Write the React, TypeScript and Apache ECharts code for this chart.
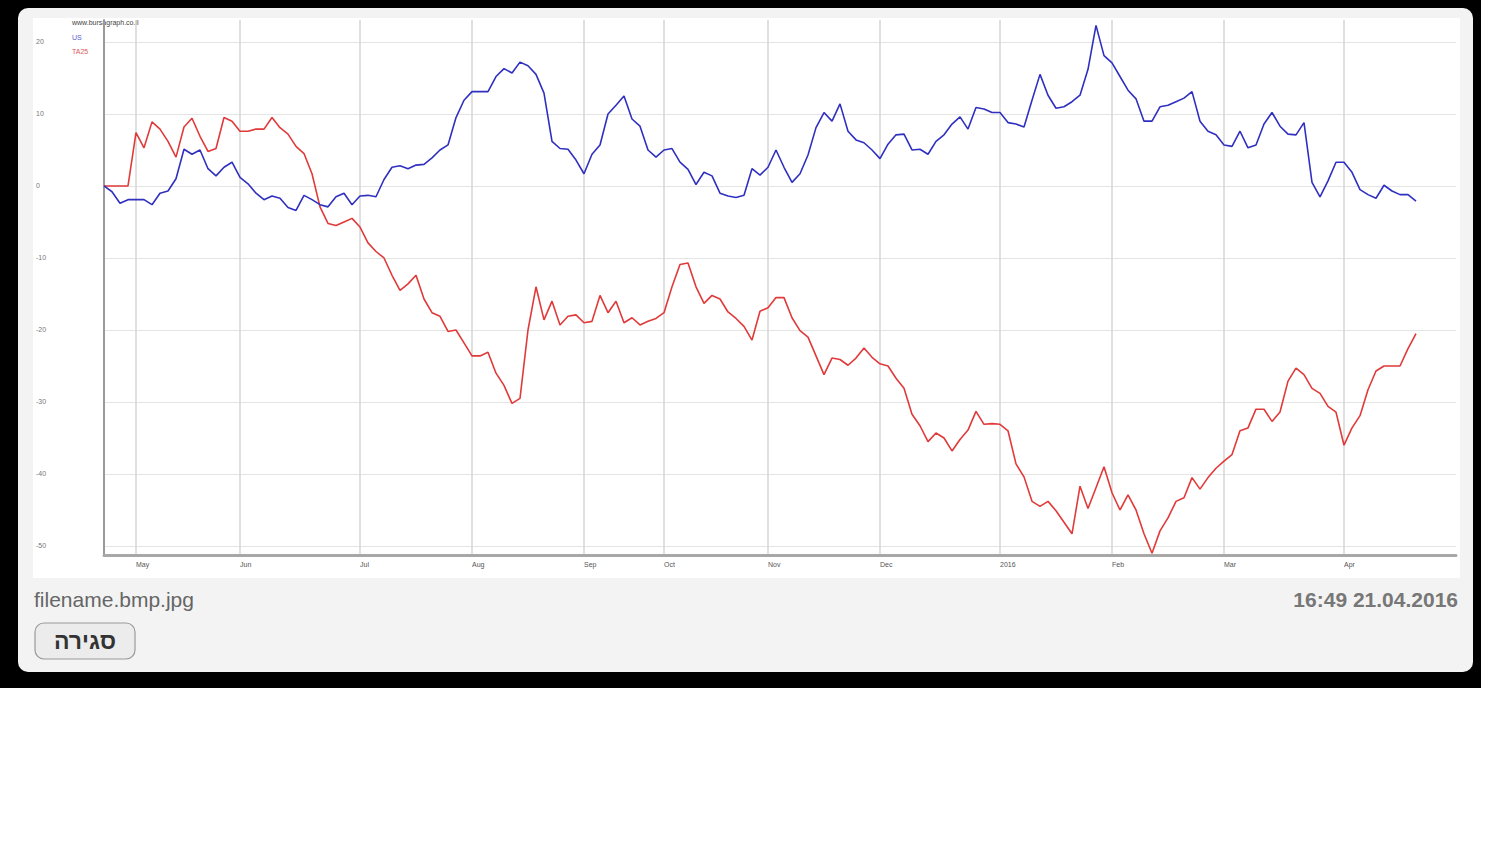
import React, { useEffect, useRef } from "react";
import * as echarts from "echarts";

// Month labels and the trading-day index where each month starts
const monthLabels = ["May", "Jun", "Jul", "Aug", "Sep", "Oct", "Nov", "Dec", "2016", "Feb", "Mar", "Apr"];
const monthIdx = [4, 17, 32, 46, 60, 70, 83, 97, 112, 126, 140, 155];
const totalSlots = 170;
const categories = Array.from({ length: totalSlots }, (_, i) => "d" + i);

const yTicks = [-50, -40, -30, -20, -10, 0, 10, 20];

const seriesBlueName = "US";
const seriesRedName = "TA25";

const blueValues = [
  0, -0.8, -2.4, -1.9, -1.9, -1.9, -2.6, -1.0, -0.7, 1.0,
  5.1, 4.4, 5.0, 2.4, 1.4, 2.6, 3.3, 1.2, 0.3, -1.0,
  -1.9, -1.4, -1.7, -3.0, -3.4, -1.3, -1.9, -2.6, -2.9, -1.5,
  -1.0, -2.6, -1.4, -1.3, -1.5, 0.9, 2.6, 2.8, 2.4, 2.9,
  3.0, 3.9, 5.0, 5.7, 9.5, 11.9, 13.1, 13.1, 13.1, 15.2,
  16.3, 15.7, 17.2, 16.7, 15.5, 12.9, 6.2, 5.2, 5.1, 3.6,
  1.7, 4.4, 5.7, 10.0, 11.2, 12.5, 9.3, 8.3, 5.0, 4.0,
  5.0, 5.2, 3.3, 2.3, 0.2, 1.9, 1.4, -1.0, -1.4, -1.6,
  -1.3, 2.4, 1.5, 2.6, 5.0, 2.6, 0.5, 1.7, 4.3, 8.1,
  10.2, 9.0, 11.4, 7.6, 6.4, 6.0, 5.0, 3.8, 5.8, 7.1,
  7.2, 5.0, 5.1, 4.4, 6.2, 7.1, 8.6, 9.6, 7.9, 10.9,
  10.7, 10.2, 10.2, 8.8, 8.6, 8.2, 11.9, 15.5, 12.6, 10.8,
  11.0, 11.7, 12.6, 16.2, 22.3, 18.1, 17.1, 15.2, 13.3, 12.1,
  9.0, 9.0, 11.0, 11.2, 11.7, 12.2, 13.1, 9.0, 7.6, 7.1,
  5.7, 5.5, 7.6, 5.3, 5.7, 8.6, 10.2, 8.3, 7.2, 7.1,
  8.8, 0.5, -1.5, 0.7, 3.3, 3.3, 1.9, -0.5, -1.2, -1.7,
  0.1, -0.7, -1.2, -1.2, -2.1,
];

const redValues = [
  0, 0, 0, 0, 7.4, 5.3, 8.9, 7.9, 6.2, 4.0,
  8.2, 9.4, 6.9, 4.8, 5.2, 9.5, 9.0, 7.6, 7.6, 7.9,
  7.9, 9.5, 8.1, 7.2, 5.5, 4.5, 1.7, -2.9, -5.2, -5.5,
  -5.0, -4.5, -5.7, -7.9, -9.1, -10.0, -12.4, -14.5, -13.6, -12.4,
  -15.7, -17.6, -18.1, -20.2, -20.0, -21.8, -23.6, -23.6, -23.1, -26.0,
  -27.7, -30.2, -29.5, -20.0, -14.0, -18.6, -16.0, -19.3, -18.1, -17.9,
  -19.0, -18.8, -15.2, -17.6, -16.0, -19.0, -18.3, -19.3, -18.8, -18.4,
  -17.6, -14.0, -10.9, -10.7, -14.0, -16.3, -15.2, -15.7, -17.5, -18.4,
  -19.5, -21.4, -17.4, -16.9, -15.5, -15.5, -18.3, -20.1, -21.0, -23.6,
  -26.2, -23.9, -24.1, -24.9, -23.9, -22.5, -23.8, -24.7, -25.0, -26.7,
  -28.1, -31.7, -33.3, -35.5, -34.3, -35.0, -36.8, -35.2, -33.9, -31.3,
  -33.1, -33.0, -33.1, -34.0, -38.6, -40.4, -43.8, -44.5, -43.8, -45.1,
  -46.7, -48.3, -41.7, -44.8, -41.9, -39.0, -42.6, -45.0, -42.9, -45.0,
  -48.3, -51.0, -47.9, -46.1, -43.8, -43.3, -40.5, -42.1, -40.5, -39.2,
  -38.2, -37.3, -34.0, -33.6, -31.0, -31.0, -32.7, -31.4, -27.1, -25.3,
  -26.2, -28.1, -28.8, -30.6, -31.4, -36.0, -33.6, -31.9, -28.3, -25.7,
  -25.0, -25.0, -25.0, -22.6, -20.5,
];

const fileName = "filename.bmp.jpg";
const stampText = "16:49 21.04.2016";
const closeText = "סגירה";
const watermark = "www.bursagraph.co.il";

export default function App() {
  const ref = useRef<HTMLDivElement>(null);

  useEffect(() => {
    if (!ref.current) return;
    const chart = echarts.init(ref.current, null, { renderer: "svg" });
    const font = "'Liberation Sans', Arial, sans-serif";
    chart.setOption({
      animation: false,
      backgroundColor: "#ffffff",
      graphic: [
        { type: "rect", z: -10, silent: true, shape: { x: 0, y: 0, width: 1481, height: 688 }, style: { fill: "#000000" } },
        { type: "rect", z: -9, silent: true, shape: { x: 18, y: 8, width: 1455, height: 664, r: 10 }, style: { fill: "#f3f3f3" } },
        { type: "rect", z: -8, silent: true, shape: { x: 33, y: 18, width: 1427, height: 560 }, style: { fill: "#ffffff" } },
        { type: "text", left: 72, top: 19, style: { text: watermark, font: `7px ${font}`, fill: "#444" } },
        { type: "text", left: 72, top: 34, style: { text: seriesBlueName, font: `7px ${font}`, fill: "#5a5ad0" } },
        { type: "text", left: 72, top: 48, style: { text: seriesRedName, font: `7px ${font}`, fill: "#e05a5a" } },
        { type: "text", left: 34, top: 589, style: { text: fileName, font: `21px ${font}`, fill: "#666666" } },
        { type: "text", right: 42, top: 589, style: { text: stampText, font: `bold 21px ${font}`, fill: "#777777" } },
        {
          type: "rect",
          shape: { x: 35, y: 623, width: 100, height: 36, r: 9 },
          style: { fill: "#ececec", stroke: "#9a9a9a", lineWidth: 1.2 },
        },
        {
          type: "text",
          x: 85,
          y: 641,
          style: { text: closeText, font: `bold 23px ${font}`, fill: "#333", align: "center", verticalAlign: "middle" },
        },
      ],
      grid: { left: 104, top: 20, width: 1352, height: 535, containLabel: false },
      xAxis: {
        type: "category",
        boundaryGap: false,
        data: categories,
        axisLine: { show: true, onZero: false, lineStyle: { color: "#a8a8a8", width: 3 } },
        axisTick: { show: false },
        axisLabel: {
          interval: (i: number) => monthIdx.includes(i),
          formatter: (_v: string, i: number) => {
            const k = monthIdx.indexOf(i);
            return k >= 0 ? monthLabels[k] : "";
          },
          align: "left",
          margin: 6,
          fontSize: 7,
          color: "#555",
          fontFamily: font,
        },
        splitLine: {
          show: true,
          interval: (i: number) => monthIdx.includes(i),
          lineStyle: { color: "#d6d6d6", width: 1.5 },
        },
      },
      yAxis: {
        type: "value",
        min: -51.25,
        max: 23.05,
        splitNumber: 7,
        axisLine: { show: true, lineStyle: { color: "#9a9a9a", width: 2 } },
        axisTick: { show: false, customValues: yTicks },
        axisLabel: {
          customValues: yTicks,
          formatter: (v: number) => (Math.abs(v % 10) < 1e-6 ? String(v) : ""),
          align: "left",
          margin: 68,
          fontSize: 7,
          color: "#777",
          fontFamily: font,
        },
        splitLine: { show: true, lineStyle: { color: "#e4e4e4", width: 1.2 } },
      },
      series: [
        {
          name: seriesBlueName,
          type: "line",
          data: blueValues,
          symbol: "none",
          lineStyle: { color: "#3030c0", width: 1.6 },
          z: 3,
        },
        {
          name: seriesRedName,
          type: "line",
          data: redValues,
          symbol: "none",
          lineStyle: { color: "#e03a3a", width: 1.6 },
          z: 2,
        },
      ],
    });
    return () => chart.dispose();
  }, []);

  return (
    <div style={{ position: "absolute", left: 0, top: 0, width: 1500, height: 844 }}>
      <div ref={ref} style={{ width: 1500, height: 844 }} />
    </div>
  );
}
